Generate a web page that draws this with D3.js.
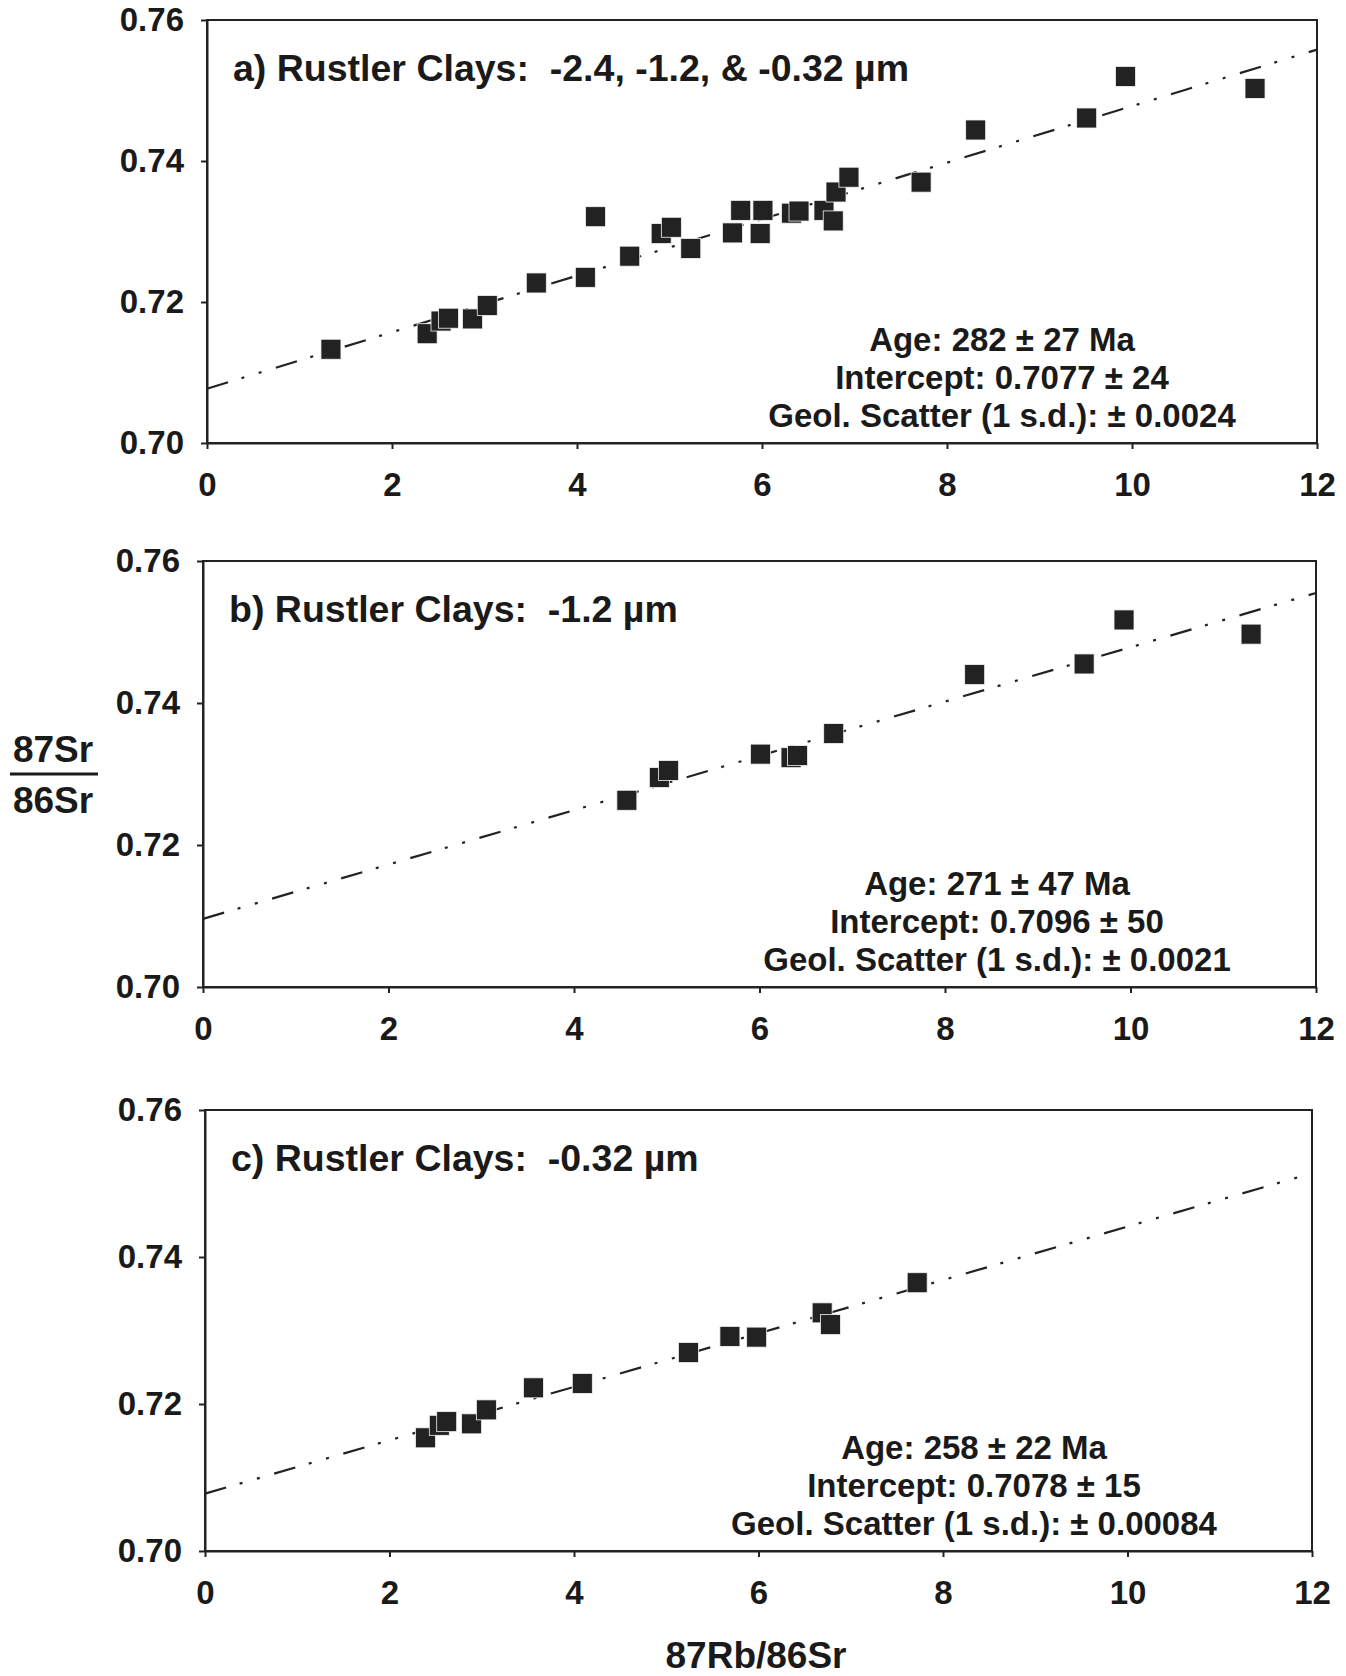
<!DOCTYPE html>
<html lang="en">
<head>
    <meta charset="UTF-8">
    <title>Rustler Clays Rb-Sr isochrons</title>
    <script src="https://d3js.org/d3.v7.min.js"></script>
    <style>
        body { margin: 0; background: #fff; }
        svg { display: block; font-family: "Liberation Sans", Arial, Helvetica, sans-serif; font-weight: bold; }
        .tick text { font-size: 33px; font-weight: bold; fill: #1a1a1a; font-family: "Liberation Sans", Arial, sans-serif; }
        .tick line, .domain { stroke: #222; stroke-width: 2px; }
        .title { font-size: 37.5px; fill: #1a1a1a; white-space: pre; }
        .stats { font-size: 33px; fill: #1a1a1a; }
        .axis-label { font-size: 37px; fill: #1a1a1a; }
    </style>
</head>
<body>
<div id="chart"></div>
<script>
    // shared axis ticks
    const xTicks = [0, 2, 4, 6, 8, 10, 12];
    const yTicks = [0.70, 0.72, 0.74, 0.76];

    // a) -2.4, -1.2 & -0.32 um
    const xA = [1.34, 2.38, 2.53, 2.61, 2.87, 3.03, 3.56, 4.09, 4.20, 4.57, 4.91, 5.02, 5.23, 5.68,
                5.77, 5.98, 6.01, 6.32, 6.40, 6.67, 6.77, 6.80, 6.94, 7.72, 8.31, 9.51, 9.93, 11.33];
    const yA = [0.7133, 0.7155, 0.7173, 0.7177, 0.7176, 0.7195, 0.7227, 0.7235, 0.7321, 0.7265, 0.7297, 0.7306, 0.7276, 0.7298,
                0.7330, 0.7297, 0.7330, 0.7326, 0.7329, 0.7330, 0.7315, 0.7356, 0.7377, 0.7370, 0.7444, 0.7461, 0.7520, 0.7503];
    const fitA = [[0, 0.7077], [12, 0.7558]];
    const statsA = ["Age: 282 ± 27 Ma", "Intercept: 0.7077 ± 24", "Geol. Scatter (1 s.d.): ± 0.0024"];

    // b) -1.2 um
    const xB = [4.57, 4.92, 5.02, 6.01, 6.34, 6.41, 6.80, 8.32, 9.50, 9.93, 11.30];
    const yB = [0.7263, 0.7295, 0.7305, 0.7328, 0.7323, 0.7326, 0.7357, 0.7440, 0.7455, 0.7517, 0.7497];
    const fitB = [[0, 0.7096], [12, 0.7555]];
    const statsB = ["Age: 271 ± 47 Ma", "Intercept: 0.7096 ± 50", "Geol. Scatter (1 s.d.): ± 0.0021"];

    // c) -0.32 um
    const xC = [2.39, 2.54, 2.62, 2.89, 3.05, 3.56, 4.09, 5.24, 5.69, 5.98, 6.69, 6.78, 7.72];
    const yC = [0.7154, 0.7171, 0.7176, 0.7173, 0.7192, 0.7222, 0.7228, 0.7270, 0.7292, 0.7291, 0.7324, 0.7308, 0.7365];
    const fitC = [[0, 0.7078], [12, 0.7514]];
    const statsC = ["Age: 258 ± 22 Ma", "Intercept: 0.7078 ± 15", "Geol. Scatter (1 s.d.): ± 0.00084"];

    const titles = ["a) Rustler Clays:  -2.4, -1.2, & -0.32 µm", "b) Rustler Clays:  -1.2 µm", "c) Rustler Clays:  -0.32 µm"];

    const svg = d3.select("#chart").append("svg").attr("width", 1346).attr("height", 1676);
    svg.append("rect").attr("width", 1346).attr("height", 1676).attr("fill", "#fff");

    // frame of each panel on the page
    const frames = [
        { left: 207, right: 1317, top: 20, bottom: 443, statsX: 1002 },
        { left: 203, right: 1316, top: 561, bottom: 987, statsX: 997 },
        { left: 205, right: 1312, top: 1110, bottom: 1551, statsX: 974 }
    ];

    function drawPanel(f, xs, ys, fit, title, stats) {
        const x = d3.scaleLinear().domain([0, 12]).range([f.left, f.right]);
        const y = d3.scaleLinear().domain([0.70, 0.76]).range([f.bottom, f.top]);
        const g = svg.append("g");

        g.append("rect")
            .attr("x", f.left).attr("y", f.top)
            .attr("width", f.right - f.left).attr("height", f.bottom - f.top)
            .attr("fill", "none").attr("stroke", "#222").attr("stroke-width", 2);

        g.append("g").attr("transform", `translate(0,${f.bottom})`)
            .call(d3.axisBottom(x).tickValues(xTicks).tickSize(6).tickSizeOuter(0).tickPadding(24).tickFormat(d3.format("d")));
        g.append("g").attr("transform", `translate(${f.left},0)`)
            .call(d3.axisLeft(y).tickValues(yTicks).tickSize(6).tickSizeOuter(0).tickPadding(17).tickFormat(d3.format(".2f")));

        // isochron fit
        g.append("path")
            .datum(fit)
            .attr("d", d3.line().x(d => x(d[0])).y(d => y(d[1])))
            .attr("fill", "none").attr("stroke", "#222").attr("stroke-width", 2.2)
            .attr("stroke-dasharray", "22,14,3,15,3,15");

        g.selectAll("rect.pt")
            .data(xs.map((v, i) => [v, ys[i]]))
            .enter().append("rect")
            .attr("class", "pt")
            .attr("x", d => x(d[0]) - 10).attr("y", d => y(d[1]) - 10)
            .attr("width", 20).attr("height", 20)
            .attr("fill", "#222").attr("stroke", "#f4f4f4").attr("stroke-width", 0.8);

        g.append("text").attr("class", "title")
            .attr("x", f.left + 26).attr("y", f.top + 61)
            .text(title);

        g.selectAll("text.stats")
            .data(stats)
            .enter().append("text")
            .attr("class", "stats")
            .attr("text-anchor", "middle")
            .attr("x", f.statsX)
            .attr("y", (d, i) => f.bottom - 92 + i * 38)
            .text(d => d);
    }

    drawPanel(frames[0], xA, yA, fitA, titles[0], statsA);
    drawPanel(frames[1], xB, yB, fitB, titles[1], statsB);
    drawPanel(frames[2], xC, yC, fitC, titles[2], statsC);

    // y axis label as a fraction
    svg.append("text").attr("class", "axis-label").attr("x", 53).attr("y", 762).attr("text-anchor", "middle").text("87Sr");
    svg.append("line").attr("x1", 10).attr("x2", 98).attr("y1", 774).attr("y2", 774).attr("stroke", "#1a1a1a").attr("stroke-width", 3);
    svg.append("text").attr("class", "axis-label").attr("x", 53).attr("y", 813).attr("text-anchor", "middle").text("86Sr");

    svg.append("text").attr("class", "axis-label").attr("x", 756).attr("y", 1668).attr("text-anchor", "middle").text("87Rb/86Sr");
</script>
</body>
</html>
